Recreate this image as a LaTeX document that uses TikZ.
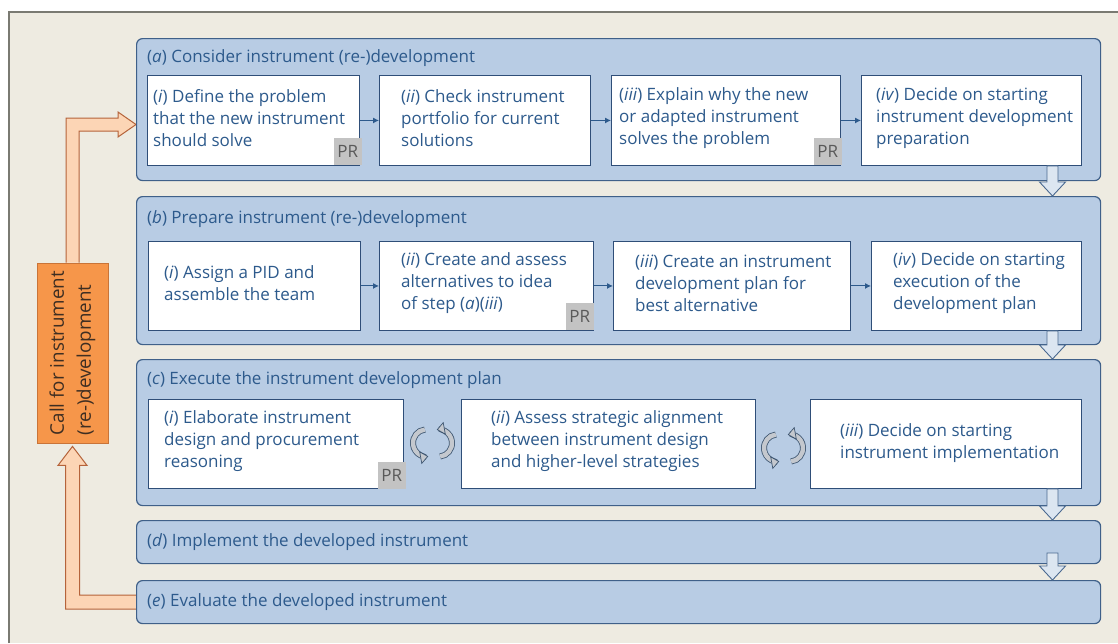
\documentclass[tikz,border=0pt]{standalone}
\usepackage{fontspec}
\setmainfont{Open Sans}
\usetikzlibrary{calc,arrows.meta}

\definecolor{framebg}{HTML}{EEEBE1}
\definecolor{frameline}{HTML}{7A7A72}
\definecolor{stagefill}{HTML}{B8CCE4}
\definecolor{stageline}{HTML}{3F6089}
\definecolor{taskline}{HTML}{2F4E78}
\definecolor{textblue}{HTML}{2D5A8C}
\definecolor{prgray}{HTML}{C3C3C3}
\definecolor{prtext}{HTML}{5A5A5A}
\definecolor{arrowfill}{HTML}{DCE6F1}
\definecolor{arrowline}{HTML}{4A6990}
\definecolor{callfill}{HTML}{F6964A}
\definecolor{callbox}{HTML}{C97438}
\definecolor{calltext}{HTML}{3E2E22}
\definecolor{callarrowfill}{HTML}{FCD5B5}
\definecolor{callline}{HTML}{B5633A}
\definecolor{icongray}{HTML}{C4C8CE}
\definecolor{iconline}{HTML}{3D5570}

\newcommand\bodyfont{\fontsize{17}{22}\selectfont}
\newcommand\callfont{\fontsize{18.8}{27}\selectfont}

% block arrow between two stages, tail point and tip point
\def\stagearrow(#1)(#2){\draw[stagearrow] let \p1=(#1), \p2=(#2) in
  (\x1-5.5pt,\y1) -- (\x1-5.5pt,\y2+14pt) -- (\x1-13pt,\y2+14pt) -- (\x2,\y2)
  -- (\x1+13pt,\y2+14pt) -- (\x1+5.5pt,\y2+14pt) -- (\x1+5.5pt,\y1) -- cycle;}

% pair of turning arrows around a point
\def\cyclearrows(#1){
  \foreach \cx/\sa/\ea in {-6/265/80, 7/85/-100}{
    \draw[cycleout] ($(#1)+(\cx,0)+(\sa:13 and 13.5)$) arc[start angle=\sa, end angle=\ea, x radius=13, y radius=13.5];
    \draw[cyclein] ($(#1)+(\cx,0)+(\sa:13 and 13.5)$) arc[start angle=\sa, end angle=\ea, x radius=13, y radius=13.5];
  }
}

\tikzset{
  stage/.style={draw=stageline, fill=stagefill, line width=1.2pt, rounded corners=6pt, anchor=north west, inner sep=0pt},
  stagetitle/.style={anchor=west, text=textblue, font=\bodyfont, inner sep=0pt},
  task/.style={draw=taskline, fill=white, line width=0.9pt, anchor=north west, inner sep=0pt},
  tasktext/.style={anchor=west, align=left, text=textblue, font=\bodyfont, inner sep=0pt},
  prtag/.style={fill=prgray, text=prtext, font=\bodyfont, anchor=south east, minimum width=28pt, minimum height=27pt, inner sep=0pt},
  flow/.style={draw=textblue, line width=1pt, -{Latex[length=6pt,width=6pt]}},
  stagearrow/.style={draw=arrowline, fill=arrowfill, line width=0.9pt, line join=miter},
  callarrow/.style={draw=callline, fill=callarrowfill, line width=1pt},
  cycleout/.style={draw=iconline, line width=6pt, shorten >=7pt},
  cyclein/.style={draw=icongray, line width=4.4pt, -{Triangle[length=8pt, width=13pt, color=iconline, fill=icongray, line width=0.7pt]}},
}

\begin{document}
\begin{tikzpicture}[x=1pt,y=-1pt]
  \useasboundingbox (0,0) rectangle (1118,643);

  % frame
  \fill[framebg] (9,12) rectangle (1118,643);
  \draw[frameline, line width=1.5pt] (9,643) -- (9,12) -- (1118,12);

  % call for (re-)development
  \node[draw=callbox, fill=callfill, line width=0.8pt, rotate=90, minimum width=180pt, minimum height=71pt,
        align=left, text=calltext, font=\callfont, inner sep=0pt] (call) at (72.5,353)
        {Call for instrument\\(re-)development};
  \coordinate (callin) at (136,124.5);
  \coordinate (callout) at (136,602);
  \draw[callarrow] let \p1=(call.east), \p2=(callin) in
    (\x1-6.5pt,\y1) -- (\x1-6.5pt,\y2+6.5pt) -- (\x2-18pt,\y2+6.5pt) -- (\x2-18pt,\y2+12.5pt) -- (\x2,\y2)
    -- (\x2-18pt,\y2-12.5pt) -- (\x2-18pt,\y2-6.5pt) -- (\x1+6.5pt,\y2-6.5pt) -- (\x1+6.5pt,\y1);
  \draw[callarrow] let \p1=(call.west), \p2=(callout) in
    (\x2,\y2+7pt) -- (\x1+7pt,\y2+7pt) -- (\x1+7pt,\y1-22pt) -- (\x1+14.5pt,\y1-22pt) -- (\x1,\y1-3pt)
    -- (\x1-14.5pt,\y1-22pt) -- (\x1-7pt,\y1-22pt) -- (\x1-7pt,\y2-7pt) -- (\x2,\y2-7pt);

  % stages
  \node[stage, minimum width=964pt, minimum height=142pt] (a) at (136,38) {};
  \node[stage, minimum width=964pt, minimum height=148pt] (b) at (136,196) {};
  \node[stage, minimum width=964pt, minimum height=146pt] (c) at (136,359) {};
  \node[stage, minimum width=964pt, minimum height=43pt] (d) at (136,520) {};
  \node[stage, minimum width=964pt, minimum height=43pt] (e) at (136,580) {};

  \node[stagetitle] (atitle) at (147,58) {(\textit{a}) Consider instrument (re-)development};
  \node[stagetitle] (btitle) at (147,219) {(\textit{b}) Prepare instrument (re-)development};
  \node[stagetitle] (ctitle) at (147,380) {(\textit{c}) Execute the instrument development plan};
  \node[stagetitle] (dtitle) at (147,542) {(\textit{d}) Implement the developed instrument};
  \node[stagetitle] (etitle) at (147,602) {(\textit{e}) Evaluate the developed instrument};

  % (a) steps
  \node[task, minimum width=212pt, minimum height=90pt] (a1) at (147,75) {};
  \node[task, minimum width=211pt, minimum height=90pt] (a2) at (379,75) {};
  \node[task, minimum width=229pt, minimum height=90pt] (a3) at (611,75) {};
  \node[task, minimum width=220pt, minimum height=90pt] (a4) at (861,75) {};
  \node[tasktext] (a1text) at ($(a1.west)+(6,-2.5)$) {(\textit{i}) Define the problem\\that the new instrument\\should solve};
  \node[tasktext] (a2text) at ($(a2.west)+(22,-2.5)$) {(\textit{ii}) Check instrument\\portfolio for current\\solutions};
  \node[tasktext] (a3text) at ($(a3.west)+(8,-2.5)$) {(\textit{iii}) Explain why the new\\or adapted instrument\\solves the problem};
  \node[tasktext] (a4text) at ($(a4.west)+(15,-2.5)$) {(\textit{iv}) Decide on starting\\instrument development\\preparation};
  \node[prtag] (pra1) at ($(a1.south east)+(2,-1)$) {PR};
  \node[prtag] (pra3) at ($(a3.south east)+(1,-1)$) {PR};
  \draw[flow] (a1.east) -- (a2.west);
  \draw[flow] (a2.east) -- (a3.west);
  \draw[flow] (a3.east) -- (a4.west);

  % (b) steps
  \node[task, minimum width=212pt, minimum height=89pt] (b1) at (148,241) {};
  \node[task, minimum width=214pt, minimum height=89pt] (b2) at (379,241) {};
  \node[task, minimum width=237pt, minimum height=89pt] (b3) at (613,241) {};
  \node[task, minimum width=210pt, minimum height=89pt] (b4) at (871,241) {};
  \node[tasktext] (b1text) at ($(b1.west)+(16,-2.5)$) {(\textit{i}) Assign a PID and\\assemble the team};
  \node[tasktext] (b2text) at ($(b2.west)+(22,-2.5)$) {(\textit{ii}) Create and assess\\alternatives to idea\\of step (\textit{a})(\textit{iii})};
  \node[tasktext] (b3text) at ($(b3.west)+(22,-2.5)$) {(\textit{iii}) Create an instrument\\development plan for\\best alternative};
  \node[tasktext] (b4text) at ($(b4.west)+(22,-2.5)$) {(\textit{iv}) Decide on starting\\execution of the\\development plan};
  \node[prtag] (prb2) at ($(b2.south east)+(0,-1)$) {PR};
  \draw[flow] (b1.east) -- (b2.west);
  \draw[flow] (b2.east) -- (b3.west);
  \draw[flow] (b3.east) -- (b4.west);

  % (c) steps
  \node[task, minimum width=255pt, minimum height=89pt] (c1) at (148,399) {};
  \node[task, minimum width=294pt, minimum height=89pt] (c2) at (461,399) {};
  \node[task, minimum width=271pt, minimum height=89pt] (c3) at (810,399) {};
  \node[tasktext] (c1text) at ($(c1.west)+(16,-2.5)$) {(\textit{i}) Elaborate instrument\\design and procurement\\reasoning};
  \node[tasktext] (c2text) at ($(c2.west)+(30,-2.5)$) {(\textit{ii}) Assess strategic alignment\\between instrument design\\and higher-level strategies};
  \node[tasktext] (c3text) at ($(c3.west)+(30,-0.5)$) {(\textit{iii}) Decide on starting\\instrument implementation};
  \node[prtag] (prc1) at ($(c1.south east)+(2,0)$) {PR};
  \coordinate (loop1) at (432,443);
  \coordinate (loop2) at (783,448);
  \cyclearrows(loop1)
  \cyclearrows(loop2)

  % hand-over between stages
  \coordinate (flow) at (1052.5,0);
  \coordinate (dtail) at (1052.5,553);
  \stagearrow(a4.south -| flow)(b.north -| flow)
  \stagearrow(b4.south -| flow)(c.north -| flow)
  \stagearrow(c3.south -| flow)(d.north -| flow)
  \stagearrow(dtail)(e.north -| flow)
\end{tikzpicture}
\end{document}
